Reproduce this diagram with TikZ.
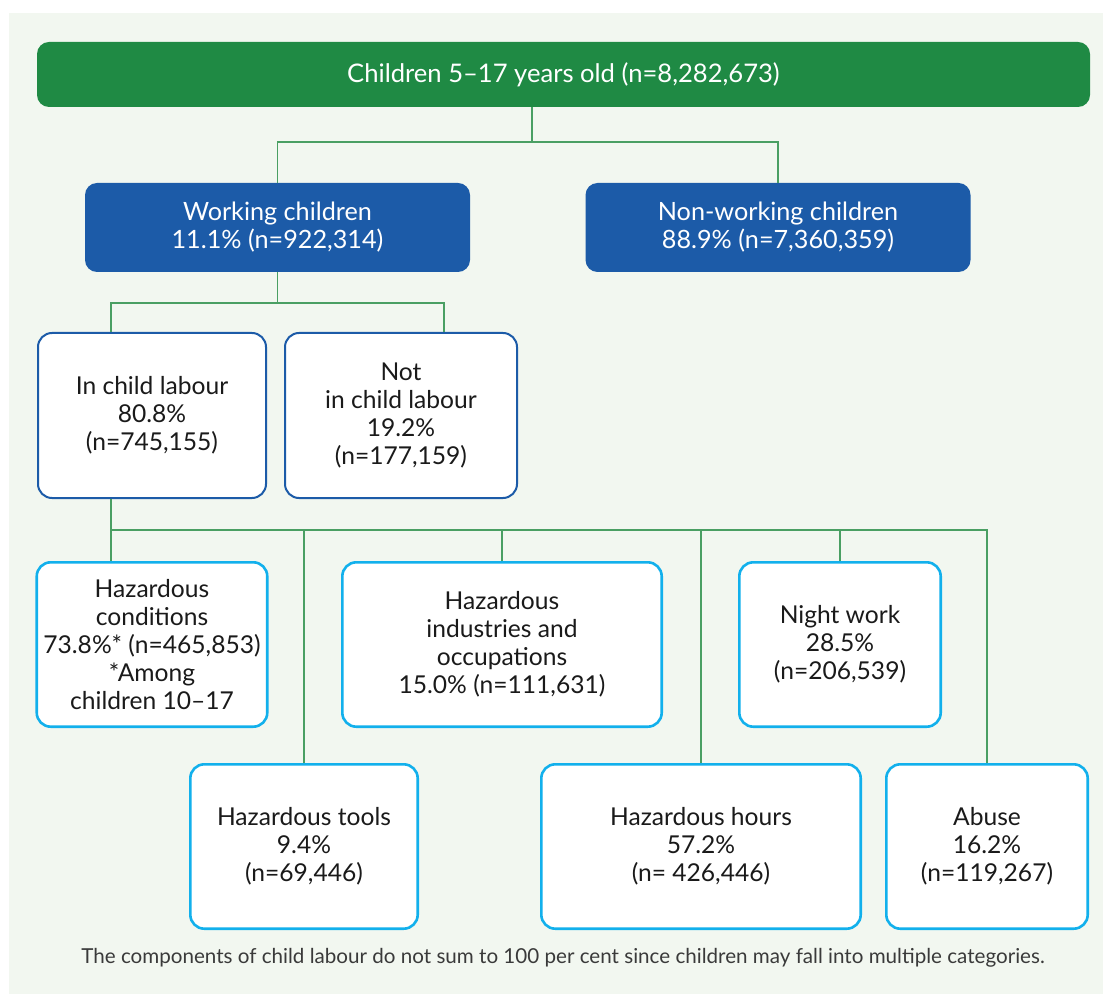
\documentclass[tikz,border=0pt]{standalone}
\usepackage{fontspec}
\setmainfont{Lato}
\usetikzlibrary{positioning}
\definecolor{panelbg}{HTML}{F2F7F0}
\definecolor{topgreen}{HTML}{1F8A44}
\definecolor{darkblue}{HTML}{1C5BA8}
\definecolor{skyblue}{HTML}{12B0EC}
\definecolor{linkgreen}{HTML}{4A9F63}
\definecolor{inktext}{HTML}{1A1A1A}
\definecolor{notegray}{HTML}{3A3A3A}
\tikzset{
rootbox/.style={
    rectangle,
    fill=topgreen,
    text=white,
    rounded corners=6pt,
    minimum width=526.5pt,
    minimum height=32.5pt,
    font=\fontsize{12.8}{15}\selectfont
},
groupbox/.style={
    rectangle,
    fill=darkblue,
    text=white,
    rounded corners=6pt,
    minimum width=192.5pt,
    minimum height=44.5pt,
    align=center,
    font=\fontsize{12.6}{14}\selectfont
},
splitbox/.style={
    rectangle,
    draw=darkblue,
    line width=1pt,
    fill=white,
    text=inktext,
    rounded corners=7pt,
    minimum height=82.5pt,
    align=center,
    font=\fontsize{12.3}{14}\selectfont
},
hazbox/.style={
    rectangle,
    draw=skyblue,
    line width=1.3pt,
    fill=white,
    text=inktext,
    rounded corners=7pt,
    minimum height=82.2pt,
    align=center,
    font=\fontsize{12.3}{14}\selectfont
},
link/.style={
    draw=linkgreen,
    line width=0.7pt
}}

\begin{document}
\begin{tikzpicture}[x=0.5pt, y=-0.5pt]

    % panel
    \useasboundingbox (0,0) rectangle (1103,994);
    \fill[panelbg] (9,13) rectangle (1103,994);

    % node placement
    \node[rootbox] (root) at (563.5,74.5) {Children 5--17 years old (n=8,282,673)};

    \node[groupbox] (work) at (277.5,227.5) {Working children\\11.1\% (n=922,314)};
    \node[groupbox] (nonwork) at (778,227.5) {Non-working children\\88.9\% (n=7,360,359)};

    \node[splitbox, minimum width=114pt] (labour) at (152,415.5) {In child labour\\80.8\%\\(n=745,155)};
    \node[splitbox, minimum width=116pt] (notlabour) at (401,415.5) {Not\\in child labour\\19.2\%\\(n=177,159)};

    \node[hazbox, minimum width=113.7pt] (cond) at (152,644.5) {Hazardous\\conditions\\73.8\%* (n=465,853)\\*Among\\children 10--17};
    \node[hazbox, minimum width=159.7pt] (industries) at (502,644.5) {Hazardous\\industries and\\occupations\\15.0\% (n=111,631)};
    \node[hazbox, minimum width=100.7pt] (night) at (840,644.5) {Night work\\28.5\%\\(n=206,539)};

    \node[hazbox, minimum width=113.7pt] (tools) at (304,846.5) {Hazardous tools\\9.4\%\\(n=69,446)};
    \node[hazbox, minimum width=159.7pt] (hours) at (701,846.5) {Hazardous hours\\57.2\%\\(n= 426,446)};
    \node[hazbox, minimum width=100.7pt] (abuse) at (987,846.5) {Abuse\\16.2\%\\(n=119,267)};

    \node[text=notegray, font=\fontsize{10.3}{12}\selectfont] (note) at (563,958)
        {The components of child labour do not sum to 100 per cent since children may fall into multiple categories.};

    % joints
    \coordinate (rootjoin) at (532,142);
    \coordinate (labourtap) at (111,303);
    \coordinate (nottap) at (444,303);
    \coordinate (hazjoin) at (111,530);

    % edges
    \draw[link] (root.south -| rootjoin) -- (rootjoin);
    \draw[link] (work.north) |- (rootjoin) -| (nonwork.north);

    \draw[link] (work.south) -- (work.south |- labourtap);
    \draw[link] (labour.north -| labourtap) -- (labourtap) -- (nottap) -- (notlabour.north -| nottap);

    \draw[link] (labour.south -| hazjoin) -- (cond.north -| hazjoin);
    \draw[link] (hazjoin) -| (abuse.north);
    \foreach \n in {tools, industries, hours, night}
        \draw[link] (\n.north) -- (\n.north |- hazjoin);

\end{tikzpicture}
\end{document}
